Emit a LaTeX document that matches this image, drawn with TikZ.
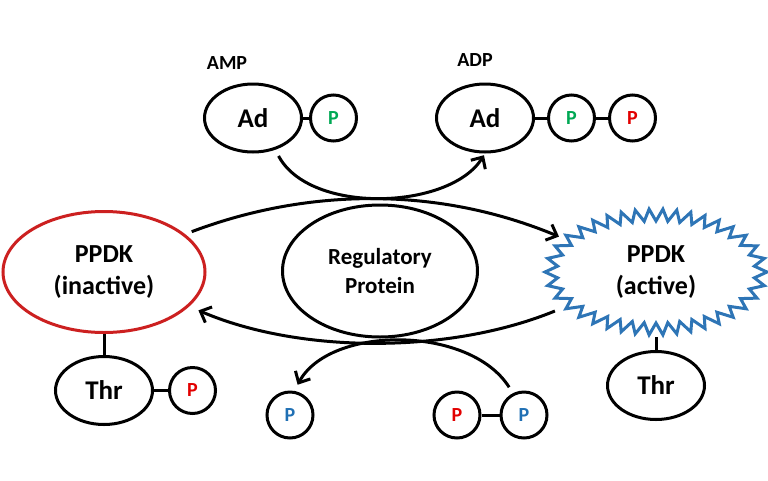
\documentclass[tikz,border=0pt]{standalone}
\usepackage{fontspec}
\setmainfont{Carlito}
\usetikzlibrary{positioning}
\usetikzlibrary{arrows.meta,shapes.geometric}
\definecolor{inred}{RGB}{204,32,32}
\definecolor{actblue}{RGB}{46,117,182}
\definecolor{pgreen}{RGB}{0,168,84}
\definecolor{pred}{RGB}{226,0,0}
\definecolor{pblue}{RGB}{32,112,180}
\tikzset{
    pathway/.style={x=1pt,y=-1pt,line width=3pt,
                    >={Straight Barb[length=9pt,width=17pt]}},
    mol/.style={ellipse,draw,minimum width=97pt,minimum height=68pt,inner sep=0pt,
                font=\fontsize{27}{30}\selectfont\bfseries},
    phos/.style={circle,draw,minimum size=46pt,inner sep=0pt,
                font=\fontsize{20}{22}\selectfont\bfseries},
    ppdk/.style={align=center,inner sep=0pt,font=\fontsize{26}{32}\selectfont\bfseries},
    tag/.style={font=\fontsize{20}{22}\selectfont\bfseries},
    }

\begin{document}
\begin{tikzpicture}[pathway]
    \useasboundingbox (0,0) rectangle (768,480);
    \node[tag] (amp) at (227,63) {AMP};
    \node[tag] (adp) at (475,60) {ADP};
    \node[mol] (ad1) at (253,118) {Ad};
    \node[phos] (p1) [right=6pt of ad1] {\textcolor{pgreen}{P}};
    \node[mol] (ad2) at (485,118) {Ad};
    \node[phos] (p2) [right=12pt of ad2] {\textcolor{pgreen}{P}};
    \node[phos] (p3) [right=12pt of p2] {\textcolor{pred}{P}};

    \node[ppdk,ellipse,draw=inred,minimum width=202pt,minimum height=121pt] (inact) at (104,272) {PPDK\\(inactive)};
    \node[ppdk,ellipse,draw,minimum width=195pt,minimum height=132pt,
          font=\fontsize{23}{29}\selectfont\bfseries] (reg) at (380,271) {Regulatory\\Protein};
    \node[ppdk,ellipse,minimum width=222pt,minimum height=127pt] (act) at (656,272) {PPDK\\(active)};
    % zigzag outline of the active form
    \draw[actblue,line join=miter,shift={(act.center)}]
        plot[samples=77,domain=0:76,variable=\i]
        ({(111-12*mod(\i,2))*cos(\i*4.736842)/sqrt(cos(\i*4.736842)^2+(111-12*mod(\i,2))/(63-12*mod(\i,2))*sin(\i*4.736842)^2)},
         {sqrt((111-12*mod(\i,2))*(63-12*mod(\i,2)))*sin(\i*4.736842)/sqrt(cos(\i*4.736842)^2+(111-12*mod(\i,2))/(63-12*mod(\i,2))*sin(\i*4.736842)^2)}) -- cycle;

    \node[mol] (thr1) [below=21pt of inact] {Thr};
    \node[phos] (p4) [right=14pt of thr1] {\textcolor{pred}{P}};
    \node[mol] (thr2) [below=13pt of act] {Thr};

    \node[phos] (p5) at (290,415) {\textcolor{pblue}{P}};
    \node[phos] (p6) at (457,415) {\textcolor{pred}{P}};
    \node[phos] (p7) [right=18pt of p6] {\textcolor{pblue}{P}};

    \path (ad1) edge (p1);
    \path (ad2) edge (p2);
    \path (p2) edge (p3);
    \path (inact) edge (thr1);
    \path (thr1) edge (p4);
    \path (act) edge (thr2);
    \path (p6) edge (p7);

    \draw[->,shorten <=7pt,shorten >=2pt] (ad1.-55) .. controls (310,215) and (450,210) .. (ad2.south);
    \draw[->,shorten <=7pt,shorten >=2pt] (inact.25) .. controls (310,187) and (440,187) .. (act.160);
    \draw[->,shorten <=8pt,shorten >=10pt] (act.201) .. controls (450,354) and (300,354) .. (inact.-22);
    \draw[->,shorten <=7pt,shorten >=7pt] (p7.117) .. controls (470,325) and (330,325) .. (p5.80);
\end{tikzpicture}
\end{document}
